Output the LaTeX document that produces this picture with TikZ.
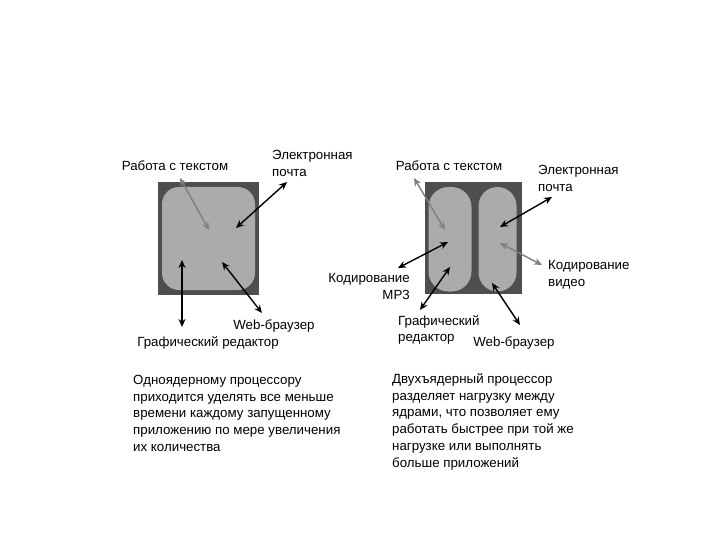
\documentclass[tikz,border=0pt]{standalone}
\usepackage{fontspec}
\setmainfont{Liberation Sans}
\usepackage{tikz}
\usetikzlibrary{arrows.meta,positioning}
\definecolor{diedark}{HTML}{4E4E4E}
\definecolor{corefill}{HTML}{ABABAB}
\definecolor{arrgray}{HTML}{808080}
\tikzstyle{dblarrow} = [line width=1.4pt,<->,>={Stealth[length=8pt,width=7pt]}]
\tikzstyle{grayarrow} = [dblarrow,draw=arrgray]
\tikzstyle{lbl} = [inner sep=0pt,font=\fontsize{13.3}{16.7}\selectfont]

\begin{document}
\begin{tikzpicture}[x=1pt,y=-1pt]
    \useasboundingbox[fill=white] (0,0) rectangle (720,540);
    % одно ядро
    \fill[diedark] (158,182) rectangle (258.5,295);
    \fill[corefill,rounded corners=17pt] (162,187) rectangle (255,290);
    % два ядра
    \fill[diedark] (425,182) rectangle (521.5,293.5);
    \fill[corefill,rounded corners=20pt] (428.5,187) rectangle (471.5,291.5);
    \fill[corefill,rounded corners=19pt] (478.5,187) rectangle (516.5,291.5);

    % подписи слева
    \node[lbl,anchor=mid] (textL) at (175,167.5) {Работа с текстом};
    \node[lbl,anchor=north west,align=left] (mailL) at (272,150) {Электронная\\почта};
    \node[lbl,anchor=mid] (graphL) at (208,343.5) {Графический редактор};
    \node[lbl,anchor=mid] (webL) at (274,327) {Web-браузер};
    % подписи справа
    \node[lbl,anchor=mid] (textR) at (449,167.5) {Работа с текстом};
    \node[lbl,anchor=north west,align=left] (mailR) at (538,165) {Электронная\\почта};
    \node[lbl,anchor=north east,align=right] (mp3R) at (410,273.5) {Кодирование\\MP3};
    \node[lbl,anchor=north west,align=left] (graphR) at (398,315) {Графический\\редактор};
    \node[lbl,anchor=north west,align=left] (videoR) at (548,260) {Кодирование\\видео};
    \node[lbl,anchor=mid] (webR) at (514,344) {Web-браузер};

    % тексты внизу
    \node[lbl,anchor=north west,align=left] (oneCore) at (133,375)
        {Одноядерному процессору\\приходится уделять все меньше\\времени каждому запущенному\\приложению по мере увеличения\\их количества};
    \node[lbl,anchor=north west,align=left] (twoCore) at (392,373.5)
        {Двухъядерный процессор\\разделяет нагрузку между\\ядрами, что позволяет ему\\работать быстрее при той же\\нагрузке или выполнять\\больше приложений};

    % концы стрелок
    \coordinate (textL-a) at (180,178);  \coordinate (textL-b) at (209,230);
    \coordinate (mailL-a) at (287,182);  \coordinate (mailL-b) at (236,228);
    \coordinate (graphL-a) at (182,260); \coordinate (graphL-b) at (182,327);
    \coordinate (webL-a) at (222,262);   \coordinate (webL-b) at (262,313);
    \coordinate (textR-a) at (414,178);  \coordinate (textR-b) at (445,230);
    \coordinate (mp3R-a) at (448,242);   \coordinate (mp3R-b) at (398,268);
    \coordinate (graphR-a) at (450,267); \coordinate (graphR-b) at (420,310);
    \coordinate (mailR-a) at (552,197);  \coordinate (mailR-b) at (500,227);
    \coordinate (videoR-a) at (500,243); \coordinate (videoR-b) at (542,265);
    \coordinate (webR-a) at (492,283);   \coordinate (webR-b) at (520,325);

    % стрелки
    \draw[grayarrow] (textL-a) -- (textL-b);
    \draw[dblarrow] (mailL-a) -- (mailL-b);
    \draw[dblarrow] (graphL-a) -- (graphL-b);
    \draw[dblarrow] (webL-a) -- (webL-b);

    \draw[grayarrow] (textR-a) -- (textR-b);
    \draw[dblarrow] (mp3R-a) -- (mp3R-b);
    \draw[dblarrow] (graphR-a) -- (graphR-b);
    \draw[dblarrow] (mailR-a) -- (mailR-b);
    \draw[grayarrow] (videoR-a) -- (videoR-b);
    \draw[dblarrow] (webR-a) -- (webR-b);
\end{tikzpicture}
\end{document}
